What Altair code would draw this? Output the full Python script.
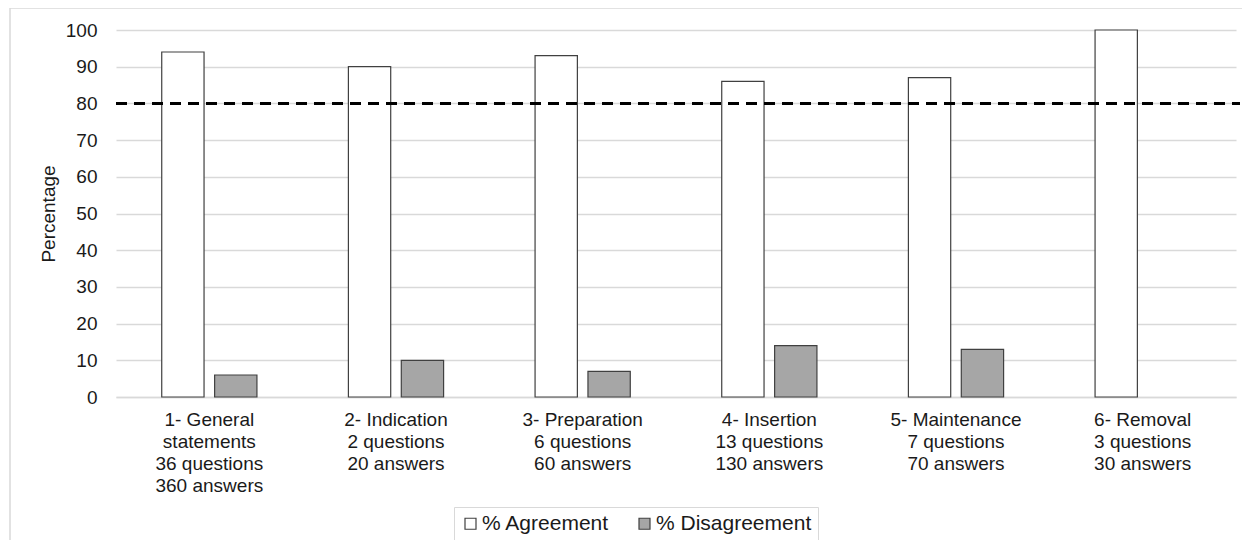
import altair as alt
import pandas as pd

categories = [
    "1- General|statements|36 questions|360 answers",
    "2- Indication|2 questions|20 answers",
    "3- Preparation|6 questions|60 answers",
    "4- Insertion|13 questions|130 answers",
    "5- Maintenance|7 questions|70 answers",
    "6- Removal|3 questions|30 answers",
]
series = ["% Agreement", "% Disagreement"]
agreement = [94, 90, 93, 86, 87, 100]
disagreement = [6, 10, 7, 14, 13, 0]
threshold = [80]

rows = []
for c, a, d in zip(categories, agreement, disagreement):
    rows.append({"category": c, "series": series[0], "value": a})
    rows.append({"category": c, "series": series[1], "value": d})
df = pd.DataFrame(rows)
thr = pd.DataFrame({"value": threshold})

W, H = 1120, 367
FONT = "Liberation Sans"
TXT = "#1a1a1a"

yscale = alt.Scale(domain=[0, 100], nice=False)
yaxis = alt.Axis(
    title="Percentage",
    values=list(range(0, 101, 10)),
    titleFontSize=19,
    titleFontWeight="normal",
    titleFont=FONT,
    titleColor=TXT,
    titlePadding=7,
    labelFontSize=19,
    labelFont=FONT,
    labelColor=TXT,
    labelPadding=19,
    labelOverlap=False,
    ticks=False,
    domain=False,
    gridColor="#d9d9d9",
    gridWidth=1.5,
)

frame = alt.Chart(thr).mark_rect(fill="transparent", stroke="#d9d9d9", strokeWidth=1.5).encode(
    x=alt.value(-106), x2=alt.value(W + 40), y=alt.value(-22), y2=alt.value(H + 160)
)

bars = alt.Chart(df).transform_filter("datum.value > 0").mark_bar(stroke="#404040", strokeWidth=1.2).encode(
    x=alt.X(
        "category:N",
        sort=categories,
        scale=alt.Scale(paddingInner=0.49, paddingOuter=0.245),
        axis=alt.Axis(
            title=None,
            labelAngle=0,
            labelExpr="split(datum.label, '|')",
            labelFontSize=19,
            labelLineHeight=22,
            labelPadding=13,
            labelColor=TXT,
            labelFont=FONT,
            ticks=False,
            domainColor="#d9d9d9",
            domainWidth=1.5,
            labelBaseline="top",
        ),
    ),
    xOffset=alt.XOffset("series:N", sort=series, scale=alt.Scale(paddingInner=0.2, paddingOuter=0)),
    y=alt.Y("value:Q", scale=yscale, axis=yaxis),
    fill=alt.Fill(
        "series:N",
        sort=series,
        scale=alt.Scale(domain=series, range=["#ffffff", "#a6a6a6"]),
        legend=alt.Legend(
            title=None,
            orient="none",
            legendX=338,
            legendY=477,
            direction="horizontal",
            symbolType="square",
            symbolSize=121,
            symbolStrokeColor="#404040",
            symbolStrokeWidth=1.2,
            labelFontSize=21,
            labelFont=FONT,
            labelColor=TXT,
            labelOffset=1,
            columnPadding=24,
            strokeColor="#d9d9d9",
            padding=6,
            fillColor="white",
        ),
    ),
)

rule = alt.Chart(thr).mark_rule(color="black", strokeWidth=3, strokeDash=[11, 7]).encode(
    y=alt.Y("value:Q", scale=yscale, axis=yaxis), x=alt.value(0), x2=alt.value(W + 4)
)

chart = alt.layer(frame, bars, rule).properties(
    width=W,
    height=H,
    autosize=alt.AutoSizeParams(type="none"),
    padding={"left": 108, "top": 22, "right": 6, "bottom": 143},
).configure(font=FONT, view=alt.ViewConfig(stroke=None))

chart.save("out.html", embed_options={"renderer": "svg", "actions": False})
